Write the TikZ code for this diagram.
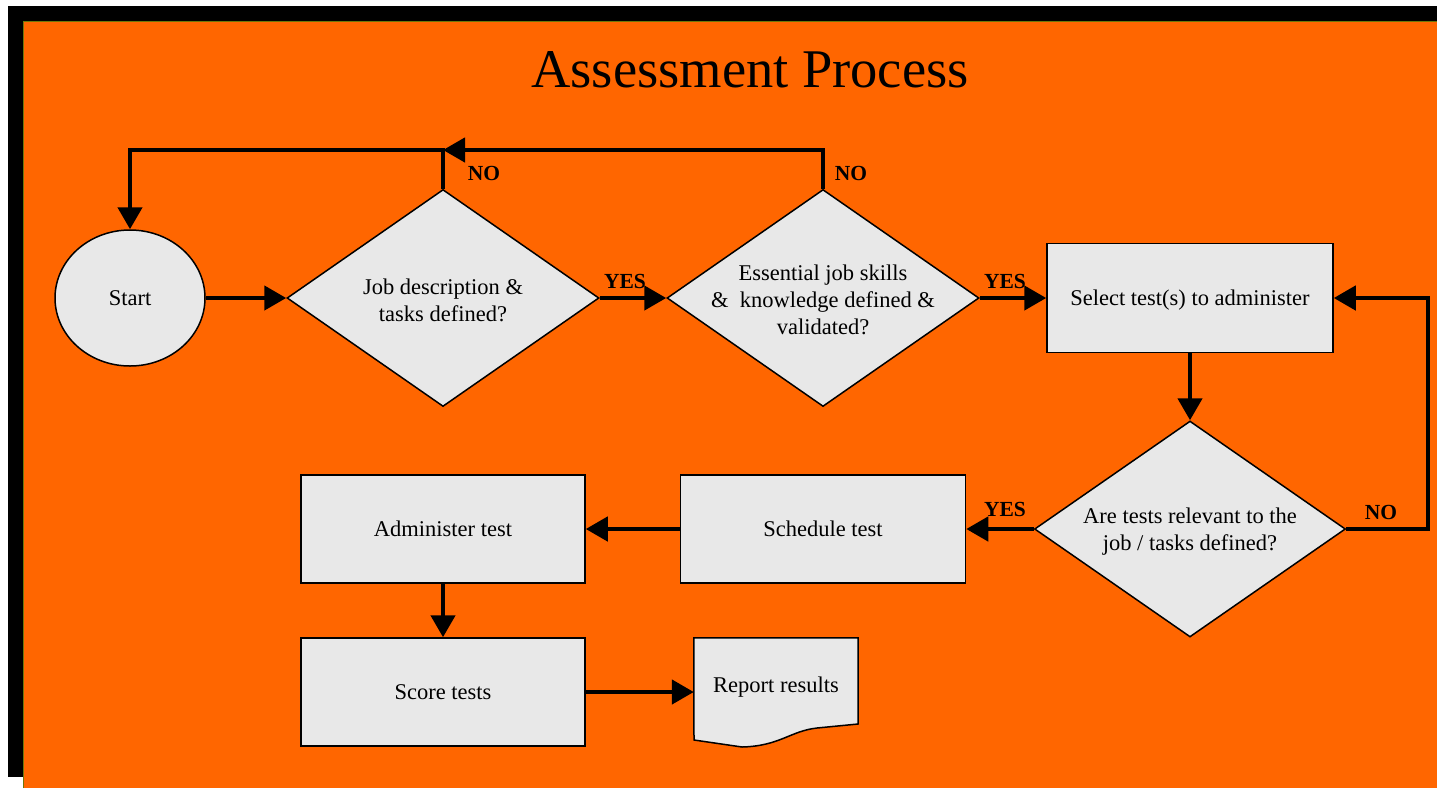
\documentclass[tikz,border=0pt]{standalone}
\usepackage{fontspec}
\setmainfont{Liberation Serif}
\usetikzlibrary{shapes.geometric}
\usetikzlibrary{arrows.meta}
\usepackage{xcolor}
\definecolor{bgorange}{RGB}{255,102,0}
\definecolor{boxgray}{RGB}{232,232,232}
\definecolor{edgeolive}{RGB}{110,120,10}
\tikzset{
	flow/.style={line width=4.5pt, -{Triangle[length=22pt,width=24pt]}},
	stepbox/.style={rectangle, draw, line width=1.5pt, fill=boxgray, minimum width=285pt, minimum height=108pt, inner sep=0pt},
	decision/.style={diamond, draw, line width=1.5pt, fill=boxgray, minimum width=312pt, minimum height=217pt, inner sep=0pt},
	txt/.style={align=center, font=\fontsize{22.5}{27}\selectfont},
	answer/.style={font=\fontsize{21.5}{24}\selectfont\bfseries}
}

\begin{document}
\begin{tikzpicture}[x=1pt,y=-1pt]
		\useasboundingbox (0,0) rectangle (1437,788);
		% background with shadow
		\fill[black] (8,6) rectangle (1437,777);
		\fill[bgorange] (23,21) rectangle (1437,788);
		\draw[edgeolive, line width=1.5pt] (23.5,788) -- (23.5,21.5) -- (1437,21.5);
		\node[font=\fontsize{54.5}{60}\selectfont] (title) at (750,70) {Assessment Process};
		% shapes
		\node[ellipse, draw, line width=1.5pt, fill=boxgray, minimum width=150pt, minimum height=136pt, inner sep=0pt, txt] (start) at (130,298) {Start};
		\node[decision] (checkjob) at (443,298) {};
		\node[txt] (checkjobtext) at (443,300) {Job description \&\\tasks defined?};
		\node[decision] (checkskills) at (823,298) {};
		\node[txt] (checkskillstext) at (823,300) {Essential job skills\\ \&\ \ knowledge defined \&\\validated?};
		\node[stepbox, minimum width=286pt, minimum height=109pt] (select) at (1190,298) {};
		\node[txt] (selecttext) at (1190,300) {Select test(s) to administer};
		\node[decision, minimum width=311pt, minimum height=216pt] (checktests) at (1190,529) {};
		\node[txt] (checkteststext) at (1190,532) {Are tests relevant to the\\job / tasks defined?};
		\node[stepbox, txt] (schedule) at (823,529) {Schedule test};
		\node[stepbox, minimum width=284pt, txt] (administer) at (443,529) {Administer test};
		\node[stepbox, minimum width=284pt, txt] (score) at (443,692) {Score tests};
		\node[rectangle, minimum width=164pt, minimum height=108pt, inner sep=0pt] (report) at (776,692) {};
		\filldraw[fill=boxgray, line width=1.5pt] (report.north west) -- (report.north east) -- (858,724)
			-- (817,728) .. controls (790,731) and (780,746) .. (742,747) -- (694,740) -- cycle;
		\node[txt] (reporttext) at (776,687) {Report results};
		% connectors
		\coordinate (loopa) at (443,150);
		\coordinate (loopb) at (1428,529);
		\draw[flow] (start.east) -- (checkjob.west);
		\draw[flow] (checkjob.east) -- (checkskills.west);
		\draw[flow] (checkskills.east) -- (select.west);
		\draw[flow] (select.south) -- (checktests.north);
		\draw[flow] (checktests.west) -- (schedule.east);
		\draw[flow] (schedule.west) -- (administer.east);
		\draw[flow] (administer.south) -- (score.north);
		\draw[flow] (score.east) -- (report.west);
		\draw[flow] (checkskills.north) |- (loopa);
		\draw[flow] (checkjob.north) -- (loopa) -| (start.north);
		\draw[flow] (checktests.east) -- (loopb) |- (select.east);
		% answers
		\node[answer] (nojob) at (484,173) {NO};
		\node[answer] (noskills) at (851,173) {NO};
		\node[answer] (yesjob) at (625,281) {YES};
		\node[answer] (yesskills) at (1005,281) {YES};
		\node[answer] (yestests) at (1005,509) {YES};
		\node[answer] (notests) at (1381,512) {NO};
	\end{tikzpicture}
\end{document}
